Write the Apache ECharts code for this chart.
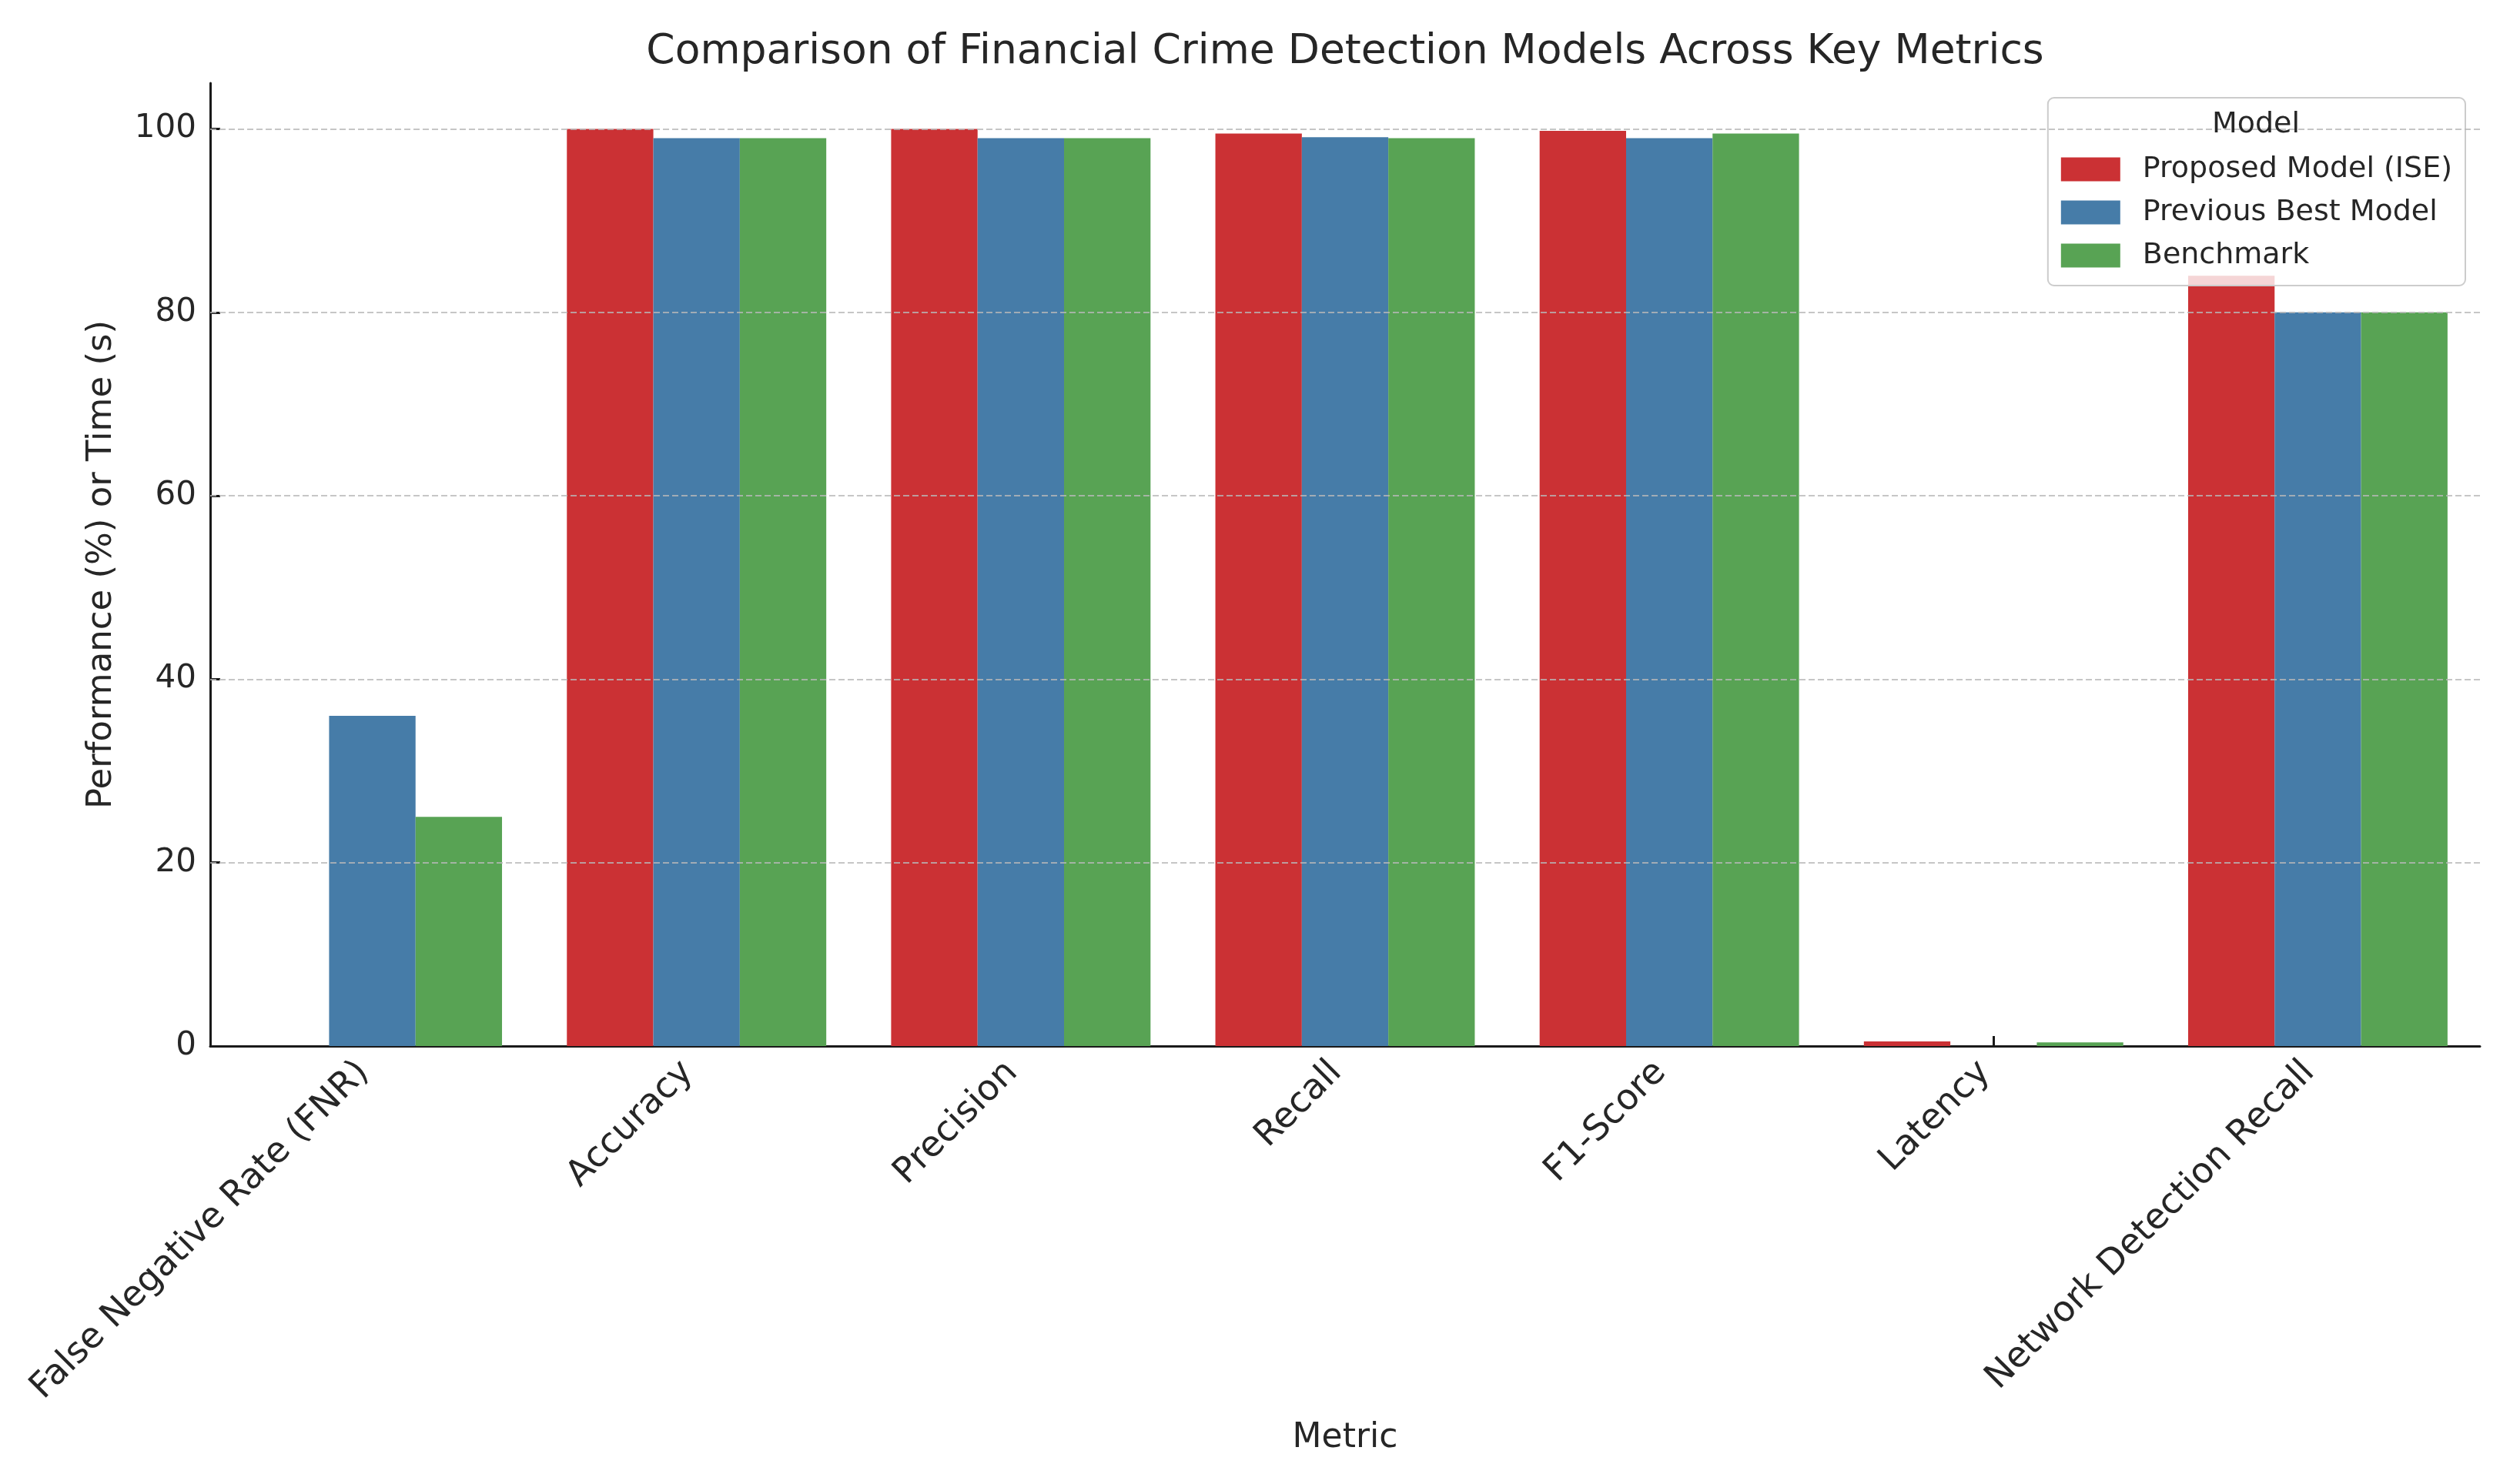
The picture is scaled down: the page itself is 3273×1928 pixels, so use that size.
<!DOCTYPE html>
<html>
<head>
<meta charset="utf-8">
<script src="https://cdn.jsdelivr.net/npm/echarts@6/dist/echarts.min.js"></script>
<style>
html,body{margin:0;padding:0;background:#fff;}
#chart{width:3273px;height:1928px;}
</style>
</head>
<body>
<div id="chart"></div>
<script>
const categories = ['False Negative Rate (FNR)', 'Accuracy', 'Precision', 'Recall', 'F1-Score', 'Latency', 'Network Detection Recall'];
const seriesNames = ['Proposed Model (ISE)', 'Previous Best Model', 'Benchmark'];
const proposedValues = [0, 100, 100, 99.5, 99.8, 0.5, 84];
const previousValues = [36, 99, 99, 99.1, 99, 0, 80];
const benchmarkValues = [25, 99, 99, 99, 99.5, 0.4, 80];
const yTicks = [0, 20, 40, 60, 80, 100];
const gridTicks = [20, 40, 60, 80, 100];

const colors = ['#cb3134', '#467ca8', '#58a354'];
const FONT = 'DejaVu Sans';
const chart = echarts.init(document.getElementById('chart'), null, {renderer: 'canvas'});

const allValues = [proposedValues, previousValues, benchmarkValues];
const series = allValues.map((vals, i) => ({
  name: seriesNames[i],
  type: 'bar',
  data: vals,
  barGap: '0%',
  barCategoryGap: '20%',
  itemStyle: {color: colors[i]},
  emphasis: {disabled: true}
}));
series[0].markLine = {
  silent: true,
  symbol: 'none',
  z: 5,
  label: {show: false},
  lineStyle: {type: [8, 4], color: '#b8b8b8', width: 2, opacity: 0.8},
  data: gridTicks.map(v => ({yAxis: v}))
};

chart.setOption({
  backgroundColor: '#ffffff',
  animation: false,
  textStyle: {fontFamily: FONT},
  legend: {
    data: seriesNames,
    orient: 'vertical',
    right: 71,
    top: 127,
    icon: 'rect',
    itemWidth: 77,
    itemHeight: 31,
    itemGap: 18,
    padding: [74, 17, 20, 17],
    backgroundColor: 'rgba(255,255,255,0.8)',
    borderColor: '#cccccc',
    borderWidth: 2,
    borderRadius: 8,
    textStyle: {fontFamily: FONT, fontSize: 38, color: '#262626', padding: [0, 0, 0, 24]}
  },
  graphic: [{
    type: 'text',
    z: 100,
    x: 1747,
    y: 68,
    style: {text: 'Comparison of Financial Crime Detection Models Across Key Metrics', font: '53.5px "DejaVu Sans"', fill: '#262626', align: 'center', verticalAlign: 'middle'}
  }, {
    type: 'text',
    z: 100,
    x: 2930,
    y: 162,
    style: {text: 'Model', font: '38px "DejaVu Sans"', fill: '#262626', align: 'center', verticalAlign: 'middle'}
  }],
  grid: {left: 273, right: 52, top: 108, bottom: 569, containLabel: false},
  xAxis: {
    type: 'category',
    data: categories,
    name: 'Metric',
    nameLocation: 'middle',
    nameGap: 488,
    nameTextStyle: {fontFamily: FONT, fontSize: 44, color: '#262626'},
    axisLine: {lineStyle: {color: '#1a1a1a', width: 3}},
    axisTick: {show: true, alignWithLabel: true, inside: true, length: 13, lineStyle: {color: '#1a1a1a', width: 3}},
    axisLabel: {rotate: 45, margin: 16, padding: [0, 16, 0, 0], fontFamily: FONT, fontSize: 46, color: '#262626', interval: 0},
    splitLine: {show: false}
  },
  yAxis: {
    type: 'value',
    min: 0,
    max: 105,
    interval: 20,
    name: 'Performance (%) or Time (s)',
    nameLocation: 'middle',
    nameGap: 118,
    nameTextStyle: {fontFamily: FONT, fontSize: 45, color: '#262626'},
    axisLine: {show: true, lineStyle: {color: '#1a1a1a', width: 3}},
    axisTick: {show: true, inside: true, length: 13, lineStyle: {color: '#1a1a1a', width: 3}, customValues: yTicks},
    axisLabel: {margin: 18, fontFamily: FONT, fontSize: 42, color: '#262626', customValues: yTicks},
    splitLine: {show: false}
  },
  series: series
});
</script>
</body>
</html>
